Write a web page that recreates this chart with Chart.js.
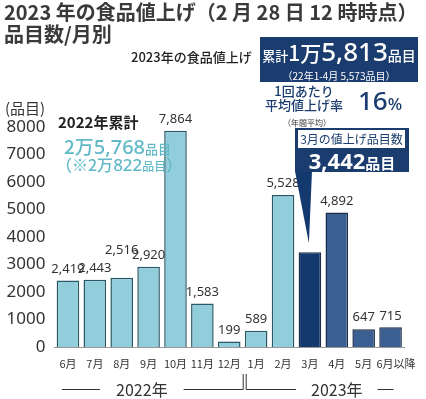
<!DOCTYPE html>
<html>
<head>
<meta charset="utf-8">
<script src="https://cdn.jsdelivr.net/npm/chart.js@4.4.1/dist/chart.umd.min.js"></script>
<style>
body { margin: 0; background: #fff; font-family: "Noto Sans CJK JP", "Noto Sans", sans-serif; color: #333; }
#wrap { position: relative; width: 426px; height: 399px; overflow: hidden; }
#chart { position: absolute; left: 0; top: 0; }
.t { position: absolute; white-space: nowrap; }
.navy { color: #1b3c6e; }
</style>
</head>
<body>
<div id="wrap">
<canvas id="chart" width="426" height="399"></canvas>

<div class="t" style="left:4px;top:1px;font-size:20px;font-weight:700;line-height:22px;color:#3a3a3a;">2023 年の食品値上げ（2 月 28 日 12 時時点）<br>品目数/月別</div>

<div class="t" style="left:131px;top:47px;font-size:13px;font-weight:500;color:#222;">2023年の食品値上げ</div>
<div class="t" style="left:260px;top:37px;width:158px;height:45px;background:#1b3c6e;color:#fff;text-align:center;">
  <div style="line-height:28px;font-weight:500;"><span style="font-size:13px;">累計</span><span style="font-size:21px;">1万</span><span style="font-size:26px;font-family:'Noto Sans';">5,813</span><span style="font-size:14px;">品目</span></div>
  <div style="font-size:10px;line-height:12px;">（22年1-4月 5,573品目）</div>
</div>
<div class="t navy" style="left:262px;top:84px;width:84px;text-align:center;font-size:13px;line-height:14px;font-weight:500;">1回あたり<br>平均値上げ率</div>
<div class="t navy" style="left:358px;top:84px;font-size:26px;font-weight:500;font-family:'Noto Sans';line-height:32px;">16<span style="font-size:17px;">%</span></div>
<div class="t" style="left:283px;top:117px;font-size:8px;color:#333;">（年間平均）</div>

<div class="t" style="left:295px;top:128px;width:114px;height:44px;background:#1b3c6e;"></div>
<div class="t navy" style="left:298px;top:130px;width:107px;height:18px;background:#fff;text-align:center;font-size:12px;line-height:18px;">3月の値上げ品目数</div>
<div class="t" style="left:295px;top:149px;width:114px;text-align:center;color:#fff;font-weight:700;line-height:22px;"><span style="font-size:22px;font-family:'Noto Sans';">3,442</span><span style="font-size:15px;">品目</span></div>

<div class="t" style="left:5px;top:99px;font-size:15px;line-height:18px;color:#333;">(品目)</div>
<div class="t" style="left:58px;top:112px;font-size:15px;font-weight:700;line-height:20px;color:#222;">2022年累計</div>
<div class="t" style="left:64px;top:134px;color:#62b9c8;font-weight:500;line-height:24px;"><span style="font-size:19px;">2万</span><span style="font-size:20px;font-family:'Noto Sans';">5,768</span><span style="font-size:13px;">品目</span></div>
<div class="t" style="left:56px;top:154px;color:#62b9c8;font-weight:500;line-height:20px;"><span style="font-size:16px;">（※2万</span><span style="font-size:17px;font-family:'Noto Sans';">822</span><span style="font-size:12px;">品目</span><span style="font-size:16px;">）</span></div>
</div>

<script>
// 月別の値上げ品目数
const months = ['6月', '7月', '8月', '9月', '10月', '11月', '12月', '1月', '2月', '3月', '4月', '5月', '6月以降'];
const items = [2419, 2443, 2516, 2920, 7864, 1583, 199, 589, 5528, 3442, 4892, 647, 715];
const yTicks = [0, 1000, 2000, 3000, 4000, 5000, 6000, 7000, 8000];
const yearLabels = ['2022年', '2023年'];

const LIGHT = '#92cddb';
const NAVY = '#14396f';
const MID = '#3b5f92';

function barColor(ctx) {
    if (ctx.dataIndex < 9) return LIGHT;
    if (ctx.dataIndex === 9) return NAVY;
    return MID;
}

// 棒の上の数値ラベル（3月は吹き出しがあるので省略）
const valueLabels = {
    id: 'valueLabels',
    afterDatasetsDraw(chart) {
        const ctx = chart.ctx;
        const meta = chart.getDatasetMeta(0);
        ctx.save();
        ctx.font = '13px "Noto Sans", sans-serif';
        ctx.fillStyle = '#333';
        ctx.textAlign = 'center';
        ctx.textBaseline = 'bottom';
        meta.data.forEach((bar, i) => {
            if (i === 9) return;
            let lift = 5;
            if (months[i] === '8月') lift = 21; // 重なり回避
            ctx.fillText(items[i].toLocaleString('en-US'), bar.x, bar.y - lift);
        });
        ctx.restore();
    }
};

// 吹き出しのしっぽと年の区切り
const extras = {
    id: 'extras',
    afterDraw(chart) {
        const ctx = chart.ctx;
        const x = chart.scales.x;
        const bar = chart.getDatasetMeta(0).data[9];

        ctx.save();
        ctx.fillStyle = NAVY;
        ctx.beginPath();
        ctx.moveTo(295, 171);
        ctx.lineTo(312, 171);
        ctx.lineTo(bar.x - 1, bar.y - 9);
        ctx.closePath();
        ctx.fill();

        const yLine = 389;
        const split = (x.getPixelForValue(6) + x.getPixelForValue(7)) / 2;
        const left = x.getPixelForValue(0) - 6;
        const right = x.getPixelForValue(12) + 3;
        ctx.font = '16px "Noto Sans CJK JP", sans-serif';
        ctx.fillStyle = '#333';
        ctx.textAlign = 'center';
        ctx.textBaseline = 'middle';
        ctx.strokeStyle = '#333';
        ctx.lineWidth = 1;

        const c1 = x.getPixelForValue(2.75);
        const c2 = x.getPixelForValue(10);
        const w1 = ctx.measureText(yearLabels[0]).width;
        const w2 = ctx.measureText(yearLabels[1]).width;
        ctx.fillText(yearLabels[0], c1, yLine + 1);
        ctx.fillText(yearLabels[1], c2, yLine + 1);

        ctx.beginPath();
        ctx.moveTo(left, yLine + 0.5); ctx.lineTo(c1 - w1 / 2 - 16, yLine + 0.5);
        ctx.moveTo(c1 + w1 / 2 + 16, yLine + 0.5); ctx.lineTo(split, yLine + 0.5);
        ctx.moveTo(split + 4, yLine + 0.5); ctx.lineTo(c2 - w2 / 2 - 15, yLine + 0.5);
        ctx.moveTo(c2 + w2 / 2 + 15, yLine + 0.5); ctx.lineTo(right, yLine + 0.5);
        ctx.moveTo(split + 0.5, 374); ctx.lineTo(split + 0.5, yLine + 1);
        ctx.moveTo(split + 3.5, 374); ctx.lineTo(split + 3.5, yLine + 1);
        ctx.stroke();
        ctx.restore();
    }
};

new Chart(document.getElementById('chart'), {
    type: 'bar',
    data: {
        labels: months,
        datasets: [{
            data: items,
            backgroundColor: barColor,
            borderColor: ctx => ctx.dataIndex < 9 ? '#2b5866' : '#1c2e4a',
            borderWidth: 1.5,
            barPercentage: 0.84,
            categoryPercentage: 1
        }]
    },
    options: {
        responsive: false,
        animation: false,
        layout: { padding: { top: 127, right: 22, bottom: 0, left: 0 } },
        plugins: {
            legend: { display: false },
            tooltip: { enabled: false }
        },
        scales: {
            x: {
                grid: { display: false },
                border: { color: '#999', width: 1 },
                ticks: {
                    color: '#333',
                    font: { size: 11, family: '"Noto Sans CJK JP", sans-serif' },
                    padding: 2,
                    maxRotation: 0,
                    autoSkip: false,
                    // 最後のラベルは右にずらす
                    callback: (v, i) => i === months.length - 1 ? '\u3000' + months[i] : months[i]
                },
                afterFit: s => { s.height = 52; }
            },
            y: {
                min: 0,
                max: 8000,
                afterBuildTicks: s => { s.ticks = yTicks.map(v => ({ value: v })); },
                grid: { display: false },
                border: { display: false },
                ticks: {
                    color: '#333',
                    font: { size: 17, family: '"Noto Sans", sans-serif' },
                    padding: 1,
                    callback: v => String(v)
                },
                afterFit: s => { s.width = 54.5; }
            }
        }
    },
    plugins: [valueLabels, extras]
});
</script>
</body>
</html>
